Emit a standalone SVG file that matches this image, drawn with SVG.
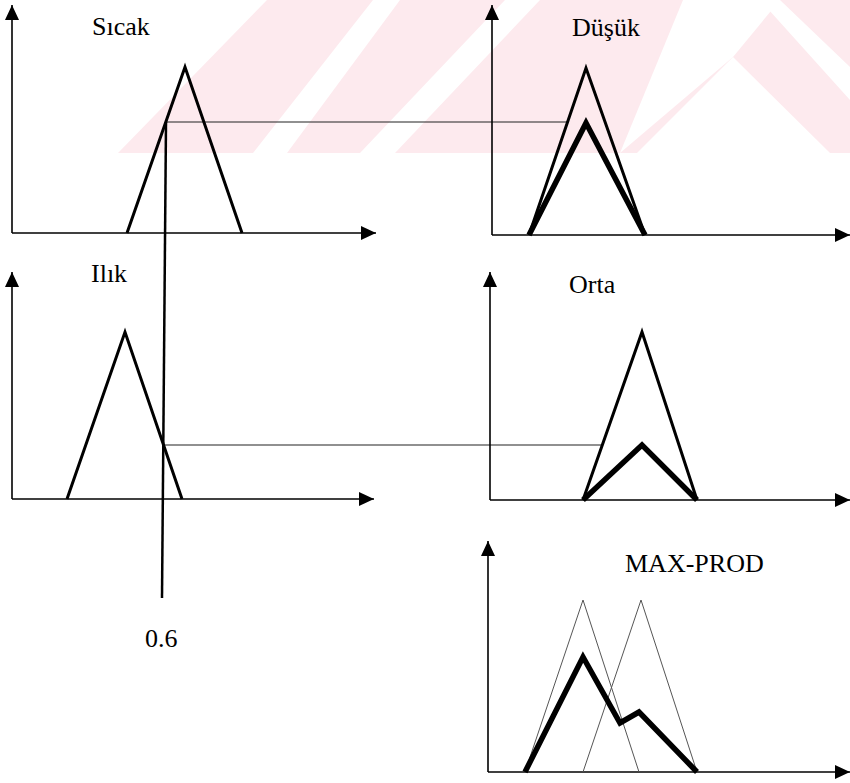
<svg xmlns="http://www.w3.org/2000/svg" width="850" height="783" viewBox="0 0 850 783">
<style>
.axis{stroke:#000;stroke-width:1.6;fill:none}
.mf{stroke:#000;stroke-width:3;fill:none;stroke-linejoin:miter}
.res{stroke:#000;stroke-width:5.5;fill:none;stroke-linejoin:miter}
.thin{stroke:#555;stroke-width:1;fill:none}
.guide{stroke:#222;stroke-width:1.2;fill:none}
.cut{stroke:#000;stroke-width:2.5;fill:none}
.wm{fill:#fdeaee}
.wmw{fill:#fff}
text{font-family:"Liberation Serif","Times New Roman",serif;font-size:26px;fill:#000}
</style>
<defs>
<marker id="ah" markerUnits="userSpaceOnUse" markerWidth="16" markerHeight="14" refX="15" refY="7" orient="auto">
<path d="M0,0 L15,7 L0,14 Z" fill="#000"/>
</marker>
<clipPath id="wmclip"><rect x="0" y="0" width="850" height="153"/></clipPath>
</defs>
<rect width="850" height="783" fill="#fff"/>
<g id="watermark" clip-path="url(#wmclip)">
<polygon class="wm" points="118,153 267,0 850,0 850,153"/>
<polygon class="wmw" points="253,153 287,153 400,0 373,0"/>
<polygon class="wmw" points="360,153 395,153 540,0 505,0"/>
<polygon class="wmw" points="620,153 683,0 780,0 733,57"/>
<polygon class="wmw" points="637,153 733,57 830,153"/>
<polygon class="wmw" points="780,0 850,67 850,100 760,0"/>
</g>
<g id="connectors">
<line class="guide" x1="166" y1="122" x2="567" y2="122"/>
<line class="guide" x1="164" y1="445" x2="602" y2="445"/>
<line class="cut" x1="166" y1="122" x2="162" y2="598"/>
</g>
<g id="plot-sicak">
<line class="axis" x1="12" y1="233" x2="12" y2="5" marker-end="url(#ah)"/>
<line class="axis" x1="12" y1="233" x2="376" y2="233" marker-end="url(#ah)"/>
<polyline class="mf" points="127,233 185,67 242,233"/>
<text x="92" y="35">Sıcak</text>
</g>
<g id="plot-dusuk">
<line class="axis" x1="492" y1="235" x2="492" y2="5" marker-end="url(#ah)"/>
<line class="axis" x1="492" y1="235" x2="850" y2="235" marker-end="url(#ah)"/>
<polyline class="mf" points="529,235 586,68 645,235"/>
<polyline class="res" points="529,235 586,123 645,235"/>
<text x="572" y="36">Düşük</text>
</g>
<g id="plot-ilik">
<line class="axis" x1="12" y1="499" x2="12" y2="272" marker-end="url(#ah)"/>
<line class="axis" x1="12" y1="499" x2="374" y2="499" marker-end="url(#ah)"/>
<polyline class="mf" points="67,499 125,332 182,499"/>
<text x="91" y="282">Ilık</text>
</g>
<g id="plot-orta">
<line class="axis" x1="490" y1="500" x2="490" y2="272" marker-end="url(#ah)"/>
<line class="axis" x1="490" y1="500" x2="850" y2="500" marker-end="url(#ah)"/>
<polyline class="mf" points="583,500 642,332 697,500"/>
<polyline class="res" points="583,500 642,445 697,500"/>
<text x="569" y="293">Orta</text>
</g>
<g id="plot-maxprod">
<line class="axis" x1="488" y1="772" x2="488" y2="541" marker-end="url(#ah)"/>
<line class="axis" x1="488" y1="772" x2="850" y2="772" marker-end="url(#ah)"/>
<polyline class="thin" points="525,772 583,600 639,772"/>
<polyline class="thin" points="583,772 641,600 697,772"/>
<polyline class="res" points="525,772 583,657 620,723 639,712 697,772"/>
<text x="625" y="572">MAX-PROD</text>
</g>
<g id="label-06">
<text x="145" y="647">0.6</text>
</g>
</svg>
